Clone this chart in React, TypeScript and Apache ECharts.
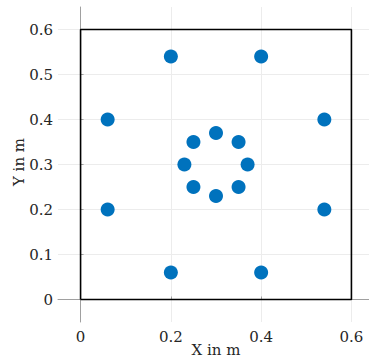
import React, { useEffect, useRef } from "react";
import * as echarts from "echarts";

const xTicks = [0, 0.2, 0.4, 0.6];
const yTicks = [0, 0.1, 0.2, 0.3, 0.4, 0.5, 0.6];
const pointsX = [0.2, 0.4, 0.06, 0.54, 0.06, 0.54, 0.2, 0.4, 0.3, 0.35, 0.37, 0.35, 0.3, 0.25, 0.23, 0.25];
const pointsY = [0.54, 0.54, 0.4, 0.4, 0.2, 0.2, 0.06, 0.06, 0.37, 0.35, 0.3, 0.25, 0.23, 0.25, 0.3, 0.35];
const boxX = [0, 0.6, 0.6, 0, 0];
const boxY = [0, 0, 0.6, 0.6, 0];

const FONT = "DejaVu Serif";

export default function App() {
  const ref = useRef<HTMLDivElement>(null);
  useEffect(() => {
    const chart = echarts.init(ref.current!, null, { renderer: "svg" });
    const axisCommon = {
      axisLine: { show: true, lineStyle: { color: "#a0a0a0", width: 1 } },
      axisTick: { show: true, inside: true, length: 3, lineStyle: { color: "#a0a0a0" } },
      splitLine: { show: true, lineStyle: { color: "#ececec", width: 1 } },
    };
    chart.setOption({
      animation: false,
      backgroundColor: "#ffffff",
      grid: { left: 58, top: 7, right: -5, bottom: 42, containLabel: false, outerBoundsMode: "none" },
      xAxis: {
        type: "value",
        min: -0.05,
        max: 0.65,
        name: "X in m",
        nameLocation: "middle",
        nameGap: 20,
        nameMoveOverlap: false,
        nameTextStyle: { fontFamily: FONT, fontSize: 15, color: "#262626" },
        ...axisCommon,
        axisTick: { ...axisCommon.axisTick, customValues: xTicks },
        axisLabel: { customValues: xTicks, fontFamily: FONT, fontSize: 15, color: "#262626", margin: 7 },
      },
      yAxis: {
        type: "value",
        min: -0.05,
        max: 0.65,
        name: "Y in m",
        nameLocation: "middle",
        nameGap: 32,
        nameMoveOverlap: false,
        nameTextStyle: { fontFamily: FONT, fontSize: 15, color: "#262626", padding: [0, 0, 0, 5] },
        ...axisCommon,
        axisTick: { ...axisCommon.axisTick, customValues: yTicks },
        axisLabel: { customValues: yTicks, fontFamily: FONT, fontSize: 15, color: "#262626", margin: 5 },
      },
      series: [
        {
          type: "line",
          data: boxX.map((x, i) => [x, boxY[i]]),
          symbol: "none",
          lineStyle: { color: "#000000", width: 1.6 },
          silent: true,
          z: 2,
        },
        {
          type: "scatter",
          data: pointsX.map((x, i) => [x, pointsY[i]]),
          symbol: "circle",
          symbolSize: 14,
          itemStyle: { color: "#0072BD", opacity: 1 },
          z: 3,
        },
      ],
    });
    return () => chart.dispose();
  }, []);
  return <div ref={ref} style={{ width: 369, height: 364, position: "absolute", left: 0, top: 0 }} />;
}
